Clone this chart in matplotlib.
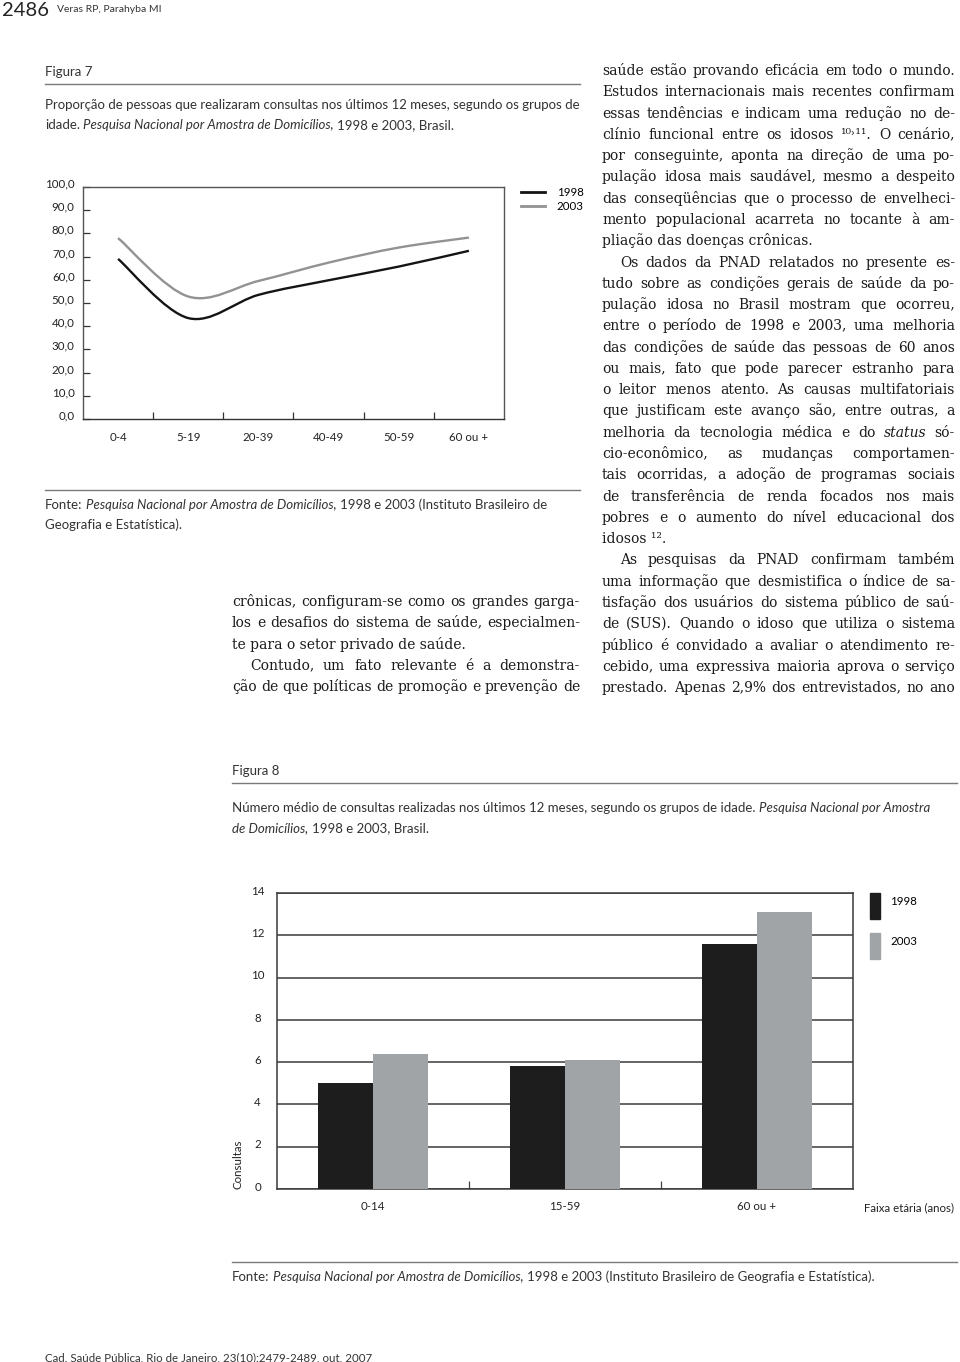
"""
Recreate a journal page with Figure 7 (line chart) and Figure 8 (bar chart) of PNAD 1998/2003.
"""
import matplotlib
matplotlib.use("Agg")
import matplotlib.pyplot as plt
import matplotlib.transforms as mtransforms
import numpy as np
from matplotlib.backends.backend_agg import get_hinting_flag
from matplotlib.lines import Line2D
from matplotlib.patches import PathPatch, Rectangle
from matplotlib.path import Path

# Page size in pixels (saved at 100 dpi).
W, H = 960, 1362
SANS = "Lato"
SERIF = ["DejaVu Serif", "DejaVu Sans"]

# Figure 7: proportion (%) of people with a consultation in the last 12 months.
AGE_GROUPS_7 = ["0-4", "5-19", "20-39", "40-49", "50-59", "60 ou +"]
PROP_1998 = [69.0, 43.5, 53.5, 59.8, 65.7, 72.5]
PROP_2003 = [78.0, 52.8, 59.5, 67.4, 73.9, 78.2]
Y_TICKS_7 = np.arange(0, 101, 10)

# Figure 8: mean number of consultations in the last 12 months.
AGE_GROUPS_8 = ["0-14", "15-59", "60 ou +"]
MEAN_1998 = [5.0, 5.8, 11.6]
MEAN_2003 = [6.4, 6.1, 13.1]
Y_TICKS_8 = np.arange(0, 15, 2)
YEARS = ["1998", "2003"]

# Page text. "*" marks an italic word, ">" an indented line, "|" a line that is not justified.
CAPTION_7 = [
    "Proporção de pessoas que realizaram consultas nos últimos 12 meses, segundo os grupos de",
    "idade. *Pesquisa *Nacional *por *Amostra *de *Domicílios, 1998 e 2003, Brasil.",
]
SOURCE_7 = [
    "Fonte: *Pesquisa *Nacional *por *Amostra *de *Domicílios, 1998 e 2003 (Instituto Brasileiro de",
    "Geografia e Estatística).",
]
CAPTION_8 = [
    "Número médio de consultas realizadas nos últimos 12 meses, segundo os grupos de idade. "
    "*Pesquisa *Nacional *por *Amostra",
    "*de *Domicílios, 1998 e 2003, Brasil.",
]
SOURCE_8 = [
    "Fonte: *Pesquisa *Nacional *por *Amostra *de *Domicílios, 1998 e 2003 "
    "(Instituto Brasileiro de Geografia e Estatística).",
]
MIDDLE_COLUMN = [
    "crônicas, configuram-se como os grandes garga-",
    "los e desafios do sistema de saúde, especialmen-",
    "te para o setor privado de saúde.|",
    ">Contudo, um fato relevante é a demonstra-",
    "ção de que políticas de promoção e prevenção de",
]
RIGHT_COLUMN = [
    "saúde estão provando eficácia em todo o mundo.",
    "Estudos internacionais mais recentes confirmam",
    "essas tendências e indicam uma redução no de-",
    "clínio funcional entre os idosos ¹⁰˒¹¹. O cenário,",
    "por conseguinte, aponta na direção de uma po-",
    "pulação idosa mais saudável, mesmo a despeito",
    "das conseqüências que o processo de envelheci-",
    "mento populacional acarreta no tocante à am-",
    "pliação das doenças crônicas.|",
    ">Os dados da PNAD relatados no presente es-",
    "tudo sobre as condições gerais de saúde da po-",
    "pulação idosa no Brasil mostram que ocorreu,",
    "entre o período de 1998 e 2003, uma melhoria",
    "das condições de saúde das pessoas de 60 anos",
    "ou mais, fato que pode parecer estranho para",
    "o leitor menos atento. As causas multifatoriais",
    "que justificam este avanço são, entre outras, a",
    "melhoria da tecnologia médica e do *status só-",
    "cio-econômico, as mudanças comportamen-",
    "tais ocorridas, a adoção de programas sociais",
    "de transferência de renda focados nos mais",
    "pobres e o aumento do nível educacional dos",
    "idosos ¹².|",
    ">As pesquisas da PNAD confirmam também",
    "uma informação que desmistifica o índice de sa-",
    "tisfação dos usuários do sistema público de saú-",
    "de (SUS). Quando o idoso que utiliza o sistema",
    "público é convidado a avaliar o atendimento re-",
    "cebido, uma expressiva maioria aprova o serviço",
    "prestado. Apenas 2,9% dos entrevistados, no ano",
]


def px_box(left, top, right, bottom):
    """Axes rectangle in figure fractions from pixel edges (y measured from the top)."""
    return [left / W, 1 - bottom / H, (right - left) / W, (bottom - top) / H]


def rule(fig, x0, x1, y, color="#7a7a7a", lw=1.0):
    fig.add_artist(Line2D([x0 / W, x1 / W], [1 - y / H] * 2, transform=fig.transFigure,
                          color=color, lw=lw))


def split_runs(line):
    """Splits a marked-up line into (words, style) runs of words sharing a style."""
    runs = []
    for word in line.split():
        style = "normal"
        if word.startswith("*"):
            word, style = word[1:], "italic"
        if runs and runs[-1][1] == style:
            runs[-1][0].append(word)
        else:
            runs.append(([word], style))
    return runs


def text_width(fig, s, **kw):
    probe = fig.text(0, 0, s, **kw)
    width = probe.get_window_extent(fig.canvas.get_renderer()).width
    probe.remove()
    return width


def snapped_baseline(fig, text, y):
    """
    Baseline (pixels from the top) that puts this word's glyphs on pixel row round(y).

    Agg rounds each string's bitmap by its own descent, so words with and without
    descenders would otherwise wander by a pixel along a justified line.
    """
    try:
        font = fig.canvas.get_renderer()._prepare_font(text.get_fontproperties())
        font.set_text(text.get_text(), 0, flags=get_hinting_flag())
        desc = font.get_descent()
        _, height = font.get_width_height()
    except Exception:  # pylint: disable=broad-except
        return y
    return round(y) + height // 64 - (height - desc) // 64 - desc / 64


def draw_ragged(fig, x0, y, line, **kw):
    """Draws a left-aligned line, run by run, switching to italic where marked."""
    space = text_width(fig, "n n", **kw) - text_width(fig, "nn", **kw)
    x = x0
    for words, style in split_runs(line):
        fig.text(x / W, 1 - y / H, " ".join(words), va="baseline", style=style, **kw)
        x += text_width(fig, " ".join(words), style=style, **kw) + space


def draw_justified(fig, x0, y, line, width, **kw):
    """Draws a line word by word so that it fills width pixels."""
    renderer = fig.canvas.get_renderer()
    texts = []
    for words, style in split_runs(line):
        for word in words:
            texts.append(fig.text(x0 / W, 1 - y / H, word, va="baseline", style=style, **kw))
    widths = [t.get_window_extent(renderer).width for t in texts]
    gap = (width - sum(widths)) / max(len(texts) - 1, 1)
    x = x0
    for text, w in zip(texts, widths):
        text.set_x(x / W)
        text.set_y(1 - snapped_baseline(fig, text, y) / H)
        x += w + gap


def parse_column(lines, x0, x1, indent):
    parsed = []
    for line in lines:
        left = x0
        if line.startswith(">"):
            line, left = line[1:], x0 + indent
        justify = not line.endswith("|")
        parsed.append((line.rstrip("|"), left, x1 - left, justify))
    return parsed


def fit_size(fig, columns, base, **kw):
    """Largest font size at which every justified line fits with normal word spacing."""
    ratio = np.inf
    for parsed in columns:
        for line, _, width, justify in parsed:
            if justify:
                natural = text_width(fig, line.replace("*", ""), fontsize=base, **kw)
                ratio = min(ratio, width / natural)
    return base * ratio


def draw_column(fig, parsed, y0, step, **kw):
    for i, (line, left, width, justify) in enumerate(parsed):
        y = y0 + i * step
        if justify:
            draw_justified(fig, left, y, line, width, **kw)
        else:
            draw_ragged(fig, left, y, line, **kw)


def smooth_path(x, y):
    """Smooth Bezier path through the data points (Catmull-Rom tangents)."""
    pts = np.column_stack([x, y]).astype(float)
    padded = np.vstack([pts[0], pts, pts[-1]])
    verts = [pts[0]]
    codes = [Path.MOVETO]
    for i in range(len(pts) - 1):
        p0, p1, p2, p3 = padded[i], padded[i + 1], padded[i + 2], padded[i + 3]
        verts += [p1 + (p2 - p0) / 6, p2 - (p3 - p1) / 6, p2]
        codes += [Path.CURVE4] * 3
    return Path(verts, codes)


def raise_labels(fig, labels, points):
    offset = mtransforms.ScaledTranslation(0, points / 72, fig.dpi_scale_trans)
    for label in labels:
        label.set_transform(label.get_transform() + offset)


def style_tick_labels(ax, size):
    for label in ax.get_xticklabels() + ax.get_yticklabels():
        label.set_family(SANS)
        label.set_fontsize(size)
        label.set_color("#222222")


fig = plt.figure(figsize=(W / 100, H / 100), dpi=100)
fig.patch.set_facecolor("white")

# Running header and footer.
fig.text(2 / W, 1 - 16 / H, "2486", family=SANS, fontsize=14.5, color="#222222")
fig.text(57 / W, 1 - 12 / H, "Veras RP, Parahyba MI", family=SANS, fontsize=7.5, color="#333333")
fig.text(45 / W, 1 - 1361 / H, "Cad. Saúde Pública, Rio de Janeiro, 23(10):2479-2489, out, 2007",
         family=SANS, fontsize=8.3, color="#333333")

sans_kw = dict(family=SANS, fontsize=9.5, color="#333333")

# Figure 7 caption and source.
fig.text(45 / W, 1 - 76 / H, "Figura 7", **sans_kw)
rule(fig, 45, 580, 84)
for i, line in enumerate(CAPTION_7):
    draw_ragged(fig, 45, 109 + i * 20, line, **sans_kw)
rule(fig, 45, 580, 490)
for i, line in enumerate(SOURCE_7):
    draw_ragged(fig, 45, 509 + i * 20, line, **sans_kw)

# Figure 7: line chart.
ax = fig.add_axes(px_box(83, 187, 504, 419))
x7 = np.arange(len(AGE_GROUPS_7))
series_7 = [(PROP_1998, "#141414"), (PROP_2003, "#929292")]
for values, color in series_7:
    ax.add_patch(PathPatch(smooth_path(x7, values), fill=False, edgecolor=color, lw=1.7))
ax.set_xlim(-0.5, len(AGE_GROUPS_7) - 0.5)
ax.set_ylim(0, 100)
ax.set_yticks(Y_TICKS_7)
ax.set_yticklabels([f"{v:.1f}".replace(".", ",") for v in Y_TICKS_7])
ax.set_xticks(x7)
ax.set_xticklabels(AGE_GROUPS_7)
ax.set_xticks(x7[:-1] + 0.5, minor=True)
ax.tick_params(axis="x", which="major", length=0, pad=9)
ax.tick_params(axis="x", which="minor", direction="in", length=5, width=0.9, color="#333333")
ax.tick_params(axis="y", direction="in", length=5, width=0.9, pad=6, color="#333333")
style_tick_labels(ax, 8.3)
raise_labels(fig, ax.get_yticklabels(), 3)
for spine in ax.spines.values():
    spine.set_color("#555555")
    spine.set_linewidth(1.0)
ax.spines["bottom"].set_color("#333333")
handles = [Line2D([], [], color=color, lw=2.0) for _, color in series_7]
ax.legend(handles, YEARS, loc="upper left", bbox_to_anchor=(1.04, 1.0), frameon=False,
          handlelength=2.1, handletextpad=1.0, labelspacing=0.3, borderpad=0, borderaxespad=0,
          prop=dict(family=SANS, size=8.3))

# Body text columns, justified.
middle = parse_column(MIDDLE_COLUMN, 232, 580, 18)
right = parse_column(RIGHT_COLUMN, 602, 955, 18)
body_kw = dict(family=SERIF, color="#1a1a1a")
body_size = fit_size(fig, [middle, right], 10, **body_kw)
draw_column(fig, middle, 606, 21.3, fontsize=body_size, **body_kw)
draw_column(fig, right, 75, 21.28, fontsize=body_size, **body_kw)

# Figure 8 caption and source.
fig.text(232 / W, 1 - 775 / H, "Figura 8", **sans_kw)
rule(fig, 232, 957, 783)
for i, line in enumerate(CAPTION_8):
    draw_ragged(fig, 232, 812 + i * 20, line, **sans_kw)
rule(fig, 232, 957, 1262)
draw_ragged(fig, 232, 1281, SOURCE_8[0], **sans_kw)

# Figure 8: bar chart.
ax = fig.add_axes(px_box(277, 893, 853, 1189))
x8 = np.arange(len(AGE_GROUPS_8))
bar_w = 0.287
bar_colors = ["#1d1d1d", "#a1a4a7"]
ax.bar(x8 - bar_w / 2, MEAN_1998, bar_w, color=bar_colors[0], zorder=3)
ax.bar(x8 + bar_w / 2, MEAN_2003, bar_w, color=bar_colors[1], zorder=3)
ax.set_xlim(-0.5, len(AGE_GROUPS_8) - 0.5)
ax.set_ylim(0, 14)
ax.set_yticks(Y_TICKS_8)
ax.yaxis.grid(True, color="#3a3a3a", lw=1.1)
ax.set_axisbelow(True)
ax.set_xticks(x8)
ax.set_xticklabels(AGE_GROUPS_8)
ax.set_xticks(x8[:-1] + 0.5, minor=True)
ax.tick_params(axis="x", which="major", length=0, pad=9)
ax.tick_params(axis="x", which="minor", direction="in", length=6, width=0.9, color="#444444")
ax.tick_params(axis="y", length=0, pad=14)
style_tick_labels(ax, 8.3)
plt.setp(ax.get_yticklabels(), ha="center")
raise_labels(fig, ax.get_yticklabels(), 2)
for spine in ax.spines.values():
    spine.set_color("#3a3a3a")
    spine.set_linewidth(1.1)
ax.set_ylabel("Consultas", loc="bottom", family=SANS, fontsize=8.3, color="#222222")
ax.yaxis.set_label_coords(-0.058, 0)
ax.text(1.019, -0.062, "Faixa etária (anos)", transform=ax.transAxes, ha="left", va="center",
        family=SANS, fontsize=8.3, color="#222222")
# Tall narrow legend keys with the year near their top, as in the printed figure.
bar_handles = [Rectangle((0, 0), 1, 1, color=c) for c in bar_colors]
leg = ax.legend(bar_handles, [y + "\n" for y in YEARS], loc="upper left",
                bbox_to_anchor=(1.0295, 1.0), frameon=False, handlelength=0.85,
                handleheight=3.1, handletextpad=0.9, labelspacing=1.2, borderpad=0,
                borderaxespad=0, prop=dict(family=SANS, size=8.3))
for text in leg.get_texts():
    text.set_linespacing(0.6)

fig.savefig("out.png", dpi=100)
